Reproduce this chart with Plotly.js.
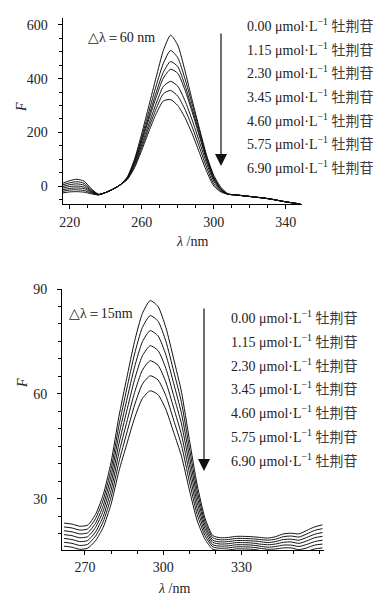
<!DOCTYPE html>
<html>
<head>
<meta charset="utf-8">
<script src="https://cdn.plot.ly/plotly-3.0.1.min.js"></script>
<style>
html,body{margin:0;padding:0;background:#fff;}
#chart{width:378px;height:603px;}
</style>
</head>
<body>
<div id="chart"></div>
<script>
// ---- data ----
const concentrations = ['0.00', '1.15', '2.30', '3.45', '4.60', '5.75', '6.90'];
const drugName = '牡荆苷';

// Δλ = 60 nm panel
const wl60 = [216,220,224,228,232,236,240,244,248,252,256,260,264,268,272,276,280,284,288,292,296,300,304,308,312,316,320,324,328,332,336,340,344,348];
const F60_0 = [10,20,25,18,-10,-31,-24,-12,4,34,100,195,300,405,505,562,525,430,320,215,115,40,-5,-30,-33,-36,-39,-42,-45,-49,-54,-59,-63,-67];
const F60_1 = [4,12,16,10,-14,-31,-24,-12,4,32,94,182,278,373,457,505,478,400,305,207,110,35,-10,-30,-33,-36,-39,-42,-45,-49,-54,-59,-63,-67];
const F60_2 = [-2,5,8,3,-17,-32,-24,-12,4,31,90,172,261,348,424,464,445,375,288,195,103,30,-12,-30,-33,-36,-39,-42,-45,-49,-54,-59,-63,-67];
const F60_3 = [-8,-2,0,-4,-20,-32,-24,-12,4,30,86,165,249,331,402,435,420,358,276,186,97,25,-14,-30,-33,-36,-39,-42,-45,-49,-54,-59,-63,-67];
const F60_4 = [-14,-9,-7,-10,-23,-32,-24,-12,4,28,80,153,232,307,371,390,372,318,246,165,85,18,-17,-30,-33,-36,-39,-42,-45,-49,-54,-59,-63,-67];
const F60_5 = [-20,-15,-14,-17,-26,-33,-24,-12,4,26,74,143,218,288,344,356,335,286,220,145,70,8,-20,-31,-33,-36,-39,-42,-45,-49,-54,-59,-63,-67];
const F60_6 = [-26,-22,-21,-23,-29,-33,-24,-12,4,24,68,133,204,269,317,322,300,255,195,125,55,0,-22,-31,-33,-36,-39,-42,-45,-49,-54,-59,-63,-67];

// Δλ = 15 nm panel
const wl15 = [262,265,268,271,274,277,280,283,286,289,292,295,298,301,304,307,310,313,316,319,322,325,328,331,334,337,340,343,346,349,352,355,358,361];
const F15_0 = [23.1,22.8,22.2,22.5,25.5,31.2,40.5,53.5,64.5,75.0,83.0,86.7,85.0,79.0,70.0,60.5,47.0,34.0,24.5,19.5,18.9,19.0,19.3,19.3,19.2,19.0,18.8,19.2,20.0,20.2,20.0,21.0,22.0,22.6];
const F15_1 = [22.0,21.7,21.1,21.4,24.3,29.7,38.5,50.9,61.4,71.4,79.0,82.4,80.8,75.1,66.5,57.5,44.6,32.3,23.5,18.9,18.3,18.4,18.7,18.7,18.6,18.4,18.2,18.5,19.2,19.4,19.1,20.0,21.0,21.5];
const F15_2 = [20.9,20.6,20.0,20.3,23.0,28.1,36.5,48.3,58.2,67.7,74.9,78.1,76.6,71.2,63.0,54.4,42.2,30.6,22.5,18.2,17.7,17.8,18.1,18.1,18.0,17.8,17.5,17.8,18.4,18.5,18.2,19.0,19.9,20.4];
const F15_3 = [19.8,19.5,18.9,19.2,21.8,26.6,34.5,45.7,55.1,64.1,70.9,73.8,72.4,67.3,59.5,51.4,39.8,28.9,21.5,17.6,17.1,17.2,17.5,17.5,17.4,17.1,16.9,17.1,17.6,17.7,17.3,18.0,18.9,19.3];
const F15_4 = [18.7,18.4,17.8,18.1,20.5,25.0,32.5,43.1,51.9,60.4,66.8,69.5,68.2,63.4,56.0,48.3,37.4,27.2,20.5,16.9,16.5,16.6,16.9,16.9,16.8,16.5,16.2,16.4,16.8,16.8,16.4,17.0,17.8,18.2];
const F15_5 = [17.6,17.3,16.7,17.0,19.3,23.5,30.5,40.5,48.8,56.8,62.8,65.2,64.0,59.5,52.5,45.3,35.0,25.5,19.5,16.3,15.9,16.0,16.3,16.3,16.2,15.9,15.6,15.7,16.0,16.0,15.5,16.0,16.8,17.1];
const F15_6 = [16.5,16.2,15.6,15.9,18.0,21.9,28.5,37.9,45.6,53.1,58.7,60.9,59.8,55.6,49.0,42.2,32.6,23.8,18.5,15.6,15.3,15.4,15.7,15.7,15.6,15.3,14.9,15.0,15.2,15.1,14.6,15.0,15.7,16.0];

const xTicks60 = [220, 260, 300, 340];
const yTicks60 = [0, 200, 400, 600];
const xTicks15 = [270, 300, 330];
const yTicks15 = [30, 60, 90];

// ---- figure ----
const W = 378, H = 603;
const serif = 'Liberation Serif, Times New Roman, serif';
const px = v => v / W;
const py = v => 1 - v / H;

const F60 = [F60_0, F60_1, F60_2, F60_3, F60_4, F60_5, F60_6];
const F15 = [F15_0, F15_1, F15_2, F15_3, F15_4, F15_5, F15_6];

const traces = [];
F60.forEach(ys => traces.push({
  x: wl60, y: ys, xaxis: 'x', yaxis: 'y', mode: 'lines', showlegend: false,
  line: {color: '#111', width: 1, shape: 'spline', smoothing: 0.6}
}));
F15.forEach(ys => traces.push({
  x: wl15, y: ys, xaxis: 'x2', yaxis: 'y2', mode: 'lines', showlegend: false,
  line: {color: '#111', width: 1, shape: 'spline', smoothing: 0.6}
}));

function axisBase() {
  return {
    showline: true, linecolor: '#000', linewidth: 1,
    showgrid: false, zeroline: false,
    ticks: 'outside', ticklen: 4, tickwidth: 1, tickcolor: '#000',
    tickfont: {family: serif, size: 14, color: '#222'},
    fixedrange: true
  };
}

const xaxis = Object.assign(axisBase(), {
  domain: [px(62.5), px(302)], range: [216, 349], anchor: 'y',
  tickmode: 'array', tickvals: xTicks60, ticklabelstandoff: 1,
  minor: {dtick: 10, tick0: 220, ticks: 'outside', ticklen: 3, tickcolor: '#000'}
});
const yaxis = Object.assign(axisBase(), {
  domain: [1 - 204 / H, 1 - 18 / H], range: [-67, 626], anchor: 'x',
  tickmode: 'array', tickvals: yTicks60, ticklabelstandoff: 7,
  minor: {dtick: 50, tick0: 0, ticks: 'outside', ticklen: 3, tickcolor: '#000'}
});
const xaxis2 = Object.assign(axisBase(), {
  domain: [px(62), px(324)], range: [261.2, 361.6], anchor: 'y2',
  tickmode: 'array', tickvals: xTicks15, ticklabelstandoff: 0,
  minor: {dtick: 10, tick0: 270, ticks: 'outside', ticklen: 3, tickcolor: '#000'}
});
const yaxis2 = Object.assign(axisBase(), {
  domain: [1 - 550 / H, 1 - 289 / H], range: [15.4, 90], anchor: 'x2',
  tickmode: 'array', tickvals: yTicks15, ticklabelstandoff: 7,
  minor: {dtick: 5, tick0: 0, ticks: 'outside', ticklen: 3, tickcolor: '#000'}
});

const annotations = [];
const txtFont = {family: serif, size: 14, color: '#222'};

function label(c) {
  return c + ' μmol·L<sup>−1</sup> <span style="font-family:Noto Sans CJK SC;color:#3c3c3c">' + drugName + '</span>';
}
function note(x, y, text, extra) {
  return Object.assign({xref: 'paper', yref: 'paper', x: px(x), y: py(y),
    xanchor: 'left', yanchor: 'middle', showarrow: false, text: text, font: txtFont}, extra || {});
}
concentrations.forEach((c, i) => {
  annotations.push(note(245, 25 + i * 23.7, label(c)));
  annotations.push(note(229, 317 + i * 23.8, label(c)));
});

// Δλ labels
annotations.push(note(86, 37, '△λ＝60 nm'));
annotations.push(note(67, 313, '△λ＝15nm'));

// arrows
annotations.push({xref: 'paper', yref: 'paper', x: px(221), y: py(166), ax: 0, ay: -134,
  text: '', showarrow: true, arrowhead: 2, arrowsize: 2, arrowwidth: 1.2, arrowcolor: '#111'});
annotations.push({xref: 'paper', yref: 'paper', x: px(204), y: py(471), ax: 0, ay: -164,
  text: '', showarrow: true, arrowhead: 2, arrowsize: 2, arrowwidth: 1.2, arrowcolor: '#111'});

// axis titles
const center = {xanchor: 'center', yanchor: 'middle'};
annotations.push(note(22, 107, '<i>F</i>', Object.assign({textangle: -90}, center)));
annotations.push(note(22, 383, '<i>F</i>', Object.assign({textangle: -90}, center)));
annotations.push(note(192, 241, '<i>λ</i> /nm', center));
annotations.push(note(174, 588, '<i>λ</i> /nm', center));

const layout = {
  width: W, height: H,
  margin: {l: 0, r: 0, t: 0, b: 0},
  paper_bgcolor: '#fff', plot_bgcolor: '#fff',
  showlegend: false,
  font: {family: serif, size: 14, color: '#222'},
  xaxis, yaxis, xaxis2, yaxis2,
  annotations
};

Plotly.newPlot('chart', traces, layout, {staticPlot: true, displayModeBar: false});
</script>
</body>
</html>
